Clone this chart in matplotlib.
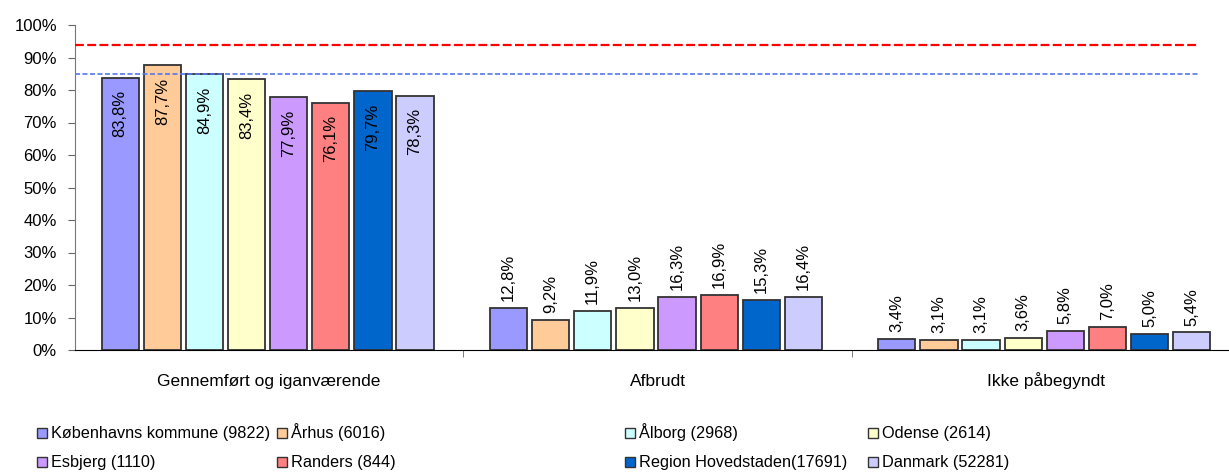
import numpy as np
import matplotlib.pyplot as plt
from matplotlib.patches import Rectangle

plt.rcParams.update({
    "font.family": ["Liberation Sans", "DejaVu Sans"],
    "font.size": 12,
})

categories = ["Gennemført og iganværende", "Afbrudt", "Ikke påbegyndt"]
series = [
    "Københavns kommune (9822)", "Århus (6016)", "Ålborg (2968)", "Odense (2614)",
    "Esbjerg (1110)", "Randers (844)", "Region Hovedstaden(17691)", "Danmark (52281)",
]
values = [
    [83.8, 12.8, 3.4],
    [87.7, 9.2, 3.1],
    [84.9, 11.9, 3.1],
    [83.4, 13.0, 3.6],
    [77.9, 16.3, 5.8],
    [76.1, 16.9, 7.0],
    [79.7, 15.3, 5.0],
    [78.3, 16.4, 5.4],
]
colors = ["#9999FF", "#FFCC99", "#CCFFFF", "#FFFFCC",
          "#CC99FF", "#FF8080", "#0066CC", "#CCCCFF"]
target_red = 94
target_blue = 85

W, H = 1229, 472
fig = plt.figure(figsize=(W / 100, H / 100), dpi=100)
ax = fig.add_axes([75 / W, 122 / H, 1165 / W, 325 / H])

x = np.arange(len(categories))
pitch = 0.1085
width = 0.096
for j, (name, vals, c) in enumerate(zip(series, values, colors)):
    xs = x + (j - 3.5) * pitch - 0.004
    ax.bar(xs, vals, width, color=c, edgecolor="#333333", linewidth=1.3, label=name, zorder=2)
    for k, (xi, v) in enumerate(zip(xs, vals)):
        txt = f"{v:.1f}".replace(".", ",") + "%"
        if k == 0:
            ax.annotate(txt, (xi, v), xytext=(0, -9), textcoords="offset points",
                        rotation=90, ha="center", va="top", fontsize=12)
        else:
            ax.annotate(txt, (xi, v), xytext=(0, 5), textcoords="offset points",
                        rotation=90, ha="center", va="bottom", fontsize=12)

ax.axhline(target_red, xmin=0, xmax=0.964, color="#FF0000", lw=1.6, ls=(0, (4, 1.5)), zorder=3)
ax.axhline(target_blue, xmin=0, xmax=0.964, color="#5577EE", lw=1.2, ls=(0, (3, 1.5)), zorder=3)

ax.set_xlim(-0.5, 2.5)
ax.set_ylim(0, 100)
ax.set_yticks(np.arange(0, 101, 10))
ax.set_yticklabels([f"{t}%" for t in range(0, 101, 10)])
ax.set_xticks(x)
ax.set_xticklabels(categories, fontsize=12.5, va="baseline")
ax.set_xticks([0.5, 1.5], minor=True)
ax.tick_params(axis="x", which="major", length=0, pad=26)
ax.tick_params(axis="x", which="minor", length=5, color="#666666")
ax.tick_params(axis="y", length=5, pad=8, color="#666666")

for s in ["top", "right"]:
    ax.spines[s].set_visible(False)
ax.spines["left"].set_color("#777777")
ax.spines["bottom"].set_color("#000000")

# legend, drawn by hand to match spacing
col_x = [37, 277, 625, 868]
row_y = [433, 462]
for j, (name, c) in enumerate(zip(series, colors)):
    cx = col_x[j % 4]
    cy = row_y[j // 4]
    fig.patches.append(Rectangle(((cx) / W, (H - cy - 5) / H), 10 / W, 10 / H,
                                 transform=fig.transFigure, facecolor=c,
                                 edgecolor="#333333", linewidth=1))
    fig.text((cx + 14) / W, (H - cy - 5) / H, name, va="baseline", ha="left", fontsize=11.7)

fig.savefig("out.png", dpi=100)
